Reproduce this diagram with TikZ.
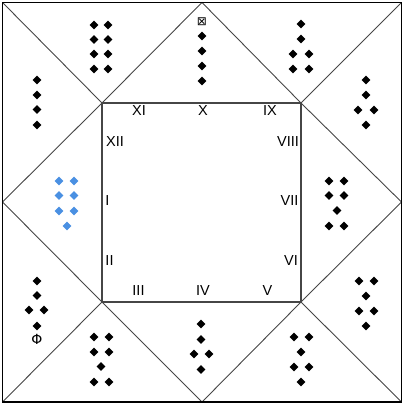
\documentclass[tikz,border=0pt]{standalone}
\usepackage{fontspec}
\setmainfont{Liberation Sans}
\newfontfamily\symfont{DejaVu Sans}
\usetikzlibrary{shapes.geometric}
\definecolor{pipblue}{RGB}{74,144,226}
\definecolor{edgegray}{RGB}{70,70,70}

\begin{document}
\begin{tikzpicture}[x=1pt, y=-1pt,
    pip/.style={diamond, fill=black, inner sep=0pt, minimum size=9pt},
    bluepip/.style={pip, fill=pipblue},
    hour/.style={inner sep=0pt, font=\fontsize{14.5}{16}\selectfont}]
  \useasboundingbox (0,0) rectangle (404,405);
  % corners of the frame and the dial
  \coordinate (oa) at (2.5,2.5);   \coordinate (ob) at (401.5,2.5);
  \coordinate (oc) at (401.5,402); \coordinate (od) at (2.5,402);
  \coordinate (ia) at (102,103);   \coordinate (ib) at (301,103);
  \coordinate (ic) at (301,302);   \coordinate (id) at (102,302);
  \coordinate (mt) at (202,2.5);   \coordinate (mr) at (401.5,202);
  \coordinate (mb) at (202,402);   \coordinate (ml) at (2.5,202);
  \draw[edgegray, line width=0.9pt] (oa) -- (ia) (ob) -- (ib) (oc) -- (ic) (od) -- (id);
  \draw[edgegray, line width=0.9pt] (ml) -- (ia) -- (mt) -- (ib) -- (mr) -- (ic) -- (mb) -- (id) -- cycle;
  \draw[edgegray, line width=1.1pt] (ia) rectangle (ic);
  \draw[black, line width=1.3pt] (oa) rectangle (oc);
  % hour marks
  \node[hour] (h11) at (139,110.5) {XI};
  \node[hour] (h10) at (203,110.5) {X};
  \node[hour] (h9) at (270,110.5) {IX};
  \node[hour] (h12) at (115,141.5) {XII};
  \node[hour] (h8) at (288,142) {VIII};
  \node[hour] (h1) at (107.5,201) {I};
  \node[hour] (h7) at (289.5,201) {VII};
  \node[hour] (h2) at (109.5,260.5) {II};
  \node[hour] (h6) at (291,261) {VI};
  \node[hour] (h3) at (138.5,291) {III};
  \node[hour] (h4) at (203,291) {IV};
  \node[hour] (h5) at (267.5,291) {V};
  % pips in the twelve triangles
  \foreach \px/\py in {94/25, 108/25, 94/39.5, 108/39.5, 94/54, 108/54, 94/69, 108/69}
    \node[pip] at (\px,\py) {};
  \foreach \py in {36,51,66,81}
    \node[pip] at (202,\py) {};
  \foreach \px/\py in {301/24, 301/39, 293/54, 309/54, 293/69, 309/69}
    \node[pip] at (\px,\py) {};
  \foreach \px/\py in {366/80, 366/95, 358/110, 374/110, 366/125}
    \node[pip] at (\px,\py) {};
  \foreach \px/\py in {329/181, 344/181, 329/195.5, 344/195.5, 337/210.5, 329/226, 344/226}
    \node[pip] at (\px,\py) {};
  \foreach \px/\py in {359/281, 374/281, 366/296, 359/311, 374/311, 366/326}
    \node[pip] at (\px,\py) {};
  \foreach \px/\py in {294/337, 309/337, 301/352, 294/367, 309/367, 301/382}
    \node[pip] at (\px,\py) {};
  \foreach \px/\py in {201/324, 201/339.5, 194/354, 209/354, 201/369.5}
    \node[pip] at (\px,\py) {};
  \foreach \px/\py in {94/337, 109/337, 94/352, 109/352, 101/366.5, 94/382, 109/382}
    \node[pip] at (\px,\py) {};
  \foreach \px/\py in {37/281, 37/295.5, 29/310, 44/310, 37/326}
    \node[pip] at (\px,\py) {};
  \foreach \px/\py in {59/181, 74/181, 59/195.5, 74/195.5, 59/211, 74/211, 67/226}
    \node[bluepip] at (\px,\py) {};
  \foreach \py in {80,95,109.5,125}
    \node[pip] at (37,\py) {};
  % odd marks
  \node[inner sep=0pt, font=\symfont\fontsize{12}{13}\selectfont] (box) at (202,22) {⊠};
  \node[inner sep=0pt, font=\symfont\fontsize{14}{15}\selectfont] (phi) at (37,339) {Φ};
\end{tikzpicture}
\end{document}
